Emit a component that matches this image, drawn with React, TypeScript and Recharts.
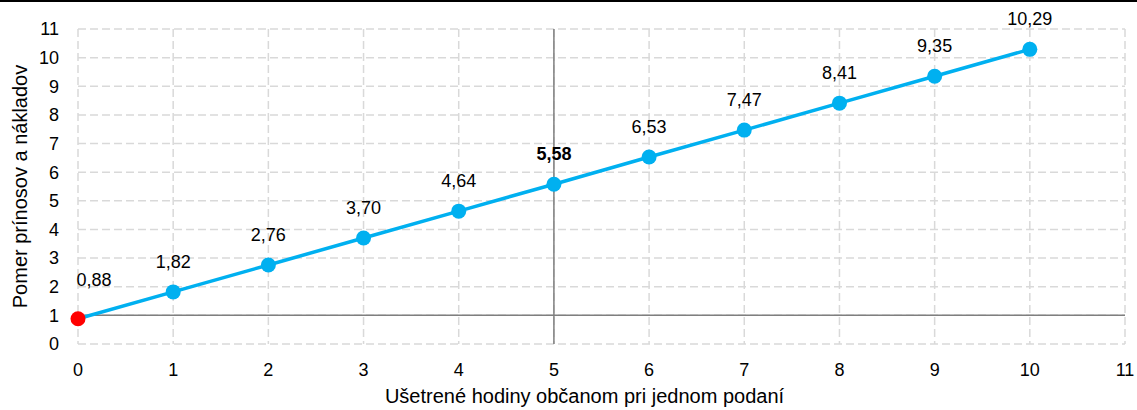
import { LineChart, Line, XAxis, YAxis, CartesianGrid, ReferenceLine, LabelList } from 'recharts';

const hours = [0, 1, 2, 3, 4, 5, 6, 7, 8, 9, 10];
const ratios = [0.88, 1.82, 2.76, 3.7, 4.64, 5.58, 6.53, 7.47, 8.41, 9.35, 10.29];
const axisTicks = [0, 1, 2, 3, 4, 5, 6, 7, 8, 9, 10, 11];

const data = hours.map((h, i) => ({ h, r: ratios[i] }));

const FONT = '"Liberation Sans", Arial, sans-serif';
const BLUE = '#00B0F0';

const fmt = (v: number) => v.toFixed(2).replace('.', ',');

const Dot = (props: any) => {
  const { cx, cy, index } = props;
  return <circle key={`d-${index}`} cx={cx} cy={cy} r={7.5} fill={index === 0 ? '#FF0000' : BLUE} stroke="none" />;
};

const PointLabel = (props: any) => {
  const { x, y, value, index } = props;
  const first = index === 0;
  return (
    <text
      x={x + (first ? 16 : 0)}
      y={y - (first ? 33 : 24)}
      textAnchor="middle"
      fontSize={18}
      fontFamily={FONT}
      fontWeight={index === 5 ? 'bold' : 'normal'}
      fill="#000"
    >
      {fmt(value)}
    </text>
  );
};

export default function App() {
  return (
    <div style={{ position: 'absolute', left: 0, top: 0, width: 1137, height: 410, background: '#fff', borderTop: '2px solid #000', boxSizing: 'border-box' }}>
      <LineChart width={1137} height={408} data={data} margin={{ top: 27, right: 12, left: 0, bottom: 0 }}>
        <CartesianGrid stroke="#d9d9d9" strokeWidth={1.5} strokeDasharray="8 4" />
        <XAxis
          dataKey="h"
          type="number"
          domain={[0, 11]}
          ticks={axisTicks}
          height={66}
          axisLine={false}
          tickLine={false}
          tickSize={0}
          tickMargin={19}
          tick={{ fill: '#000', fontSize: 18, fontFamily: FONT }}
          label={{ value: 'Ušetrené hodiny občanom pri jednom podaní', position: 'insideBottom', offset: 7, dx: -17, fill: '#000', fontSize: 20, fontFamily: FONT }}
        />
        <YAxis
          type="number"
          domain={[0, 11]}
          ticks={axisTicks}
          width={78}
          axisLine={false}
          tickLine={false}
          tickSize={0}
          tickMargin={19}
          tick={{ fill: '#000', fontSize: 18, fontFamily: FONT }}
          label={{ value: 'Pomer prínosov a nákladov', angle: -90, position: 'insideLeft', offset: 20, fill: '#000', fontSize: 20, fontFamily: FONT, style: { textAnchor: 'middle' } }}
        />
        <ReferenceLine x={5} stroke="#7f7f7f" strokeWidth={1.5} />
        <ReferenceLine y={1} stroke="#7f7f7f" strokeWidth={1.5} />
        <Line
          dataKey="r"
          stroke={BLUE}
          strokeWidth={3.5}
          dot={Dot}
          activeDot={false}
          isAnimationActive={false}
        >
          <LabelList dataKey="r" content={PointLabel} />
        </Line>
      </LineChart>
    </div>
  );
}
